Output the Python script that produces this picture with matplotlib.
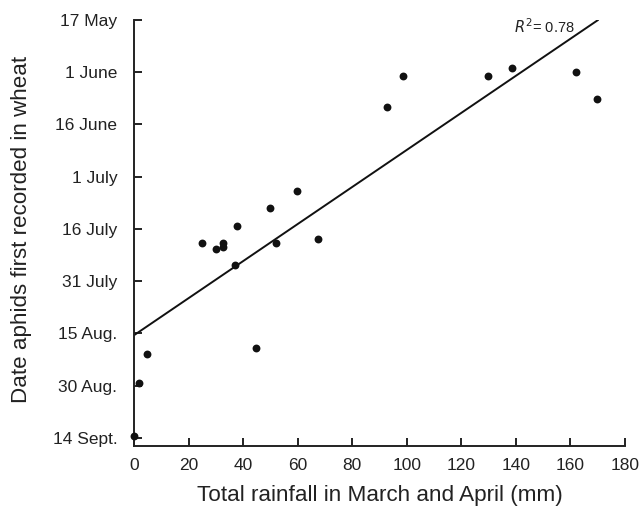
import matplotlib
matplotlib.use("Agg")
import matplotlib.pyplot as plt
import numpy as np

plt.rcParams['font.family'] = ['Liberation Sans', 'DejaVu Sans']

# Data: rainfall (mm) vs days after 17 May when aphids were first recorded
rainfall = [0, 1.7, 4.9, 25.0, 30.1, 32.7, 32.7, 36.9, 37.6, 44.6,
            49.7, 52.1, 59.9, 67.6, 92.9, 98.7, 129.9, 138.6, 161.9, 169.6]
days_after_17may = [119.5, 104.2, 96.0, 64.1, 65.7, 63.9, 65.1, 70.3, 59.1, 94.3,
                    54.1, 64.1, 49.0, 63.0, 25.0, 16.1, 16.1, 13.9, 14.9, 22.8]

# Regression line
fit_intercept = 90.5
fit_slope = -0.532
fit_x_range = [0, 170]
r2_text = "$\\it{R}^{2}$= 0.78"

ytick_days = [0, 15, 30, 45, 60, 75, 90, 105, 120]
ytick_labels = ["17 May", "1 June", "16 June", "1 July", "16 July",
                "31 July", "15 Aug.", "30 Aug.", "14 Sept."]
xticks = [0, 20, 40, 60, 80, 100, 120, 140, 160, 180]

fig = plt.figure(figsize=(6.4, 5.07), dpi=100)
ax = fig.add_axes([134/640, 1-446/507, (625-134)/640, (446-20)/507])

ax.scatter(rainfall, days_after_17may, s=32, color='#111111', zorder=3,
           clip_on=False, linewidths=0)
fx = np.array(fit_x_range, dtype=float)
ax.plot(fx, fit_intercept + fit_slope*fx, color='#111111', lw=1.4)

ax.set_xlim(0, 180)
ax.set_ylim(122.3, 0)
ax.set_xticks(xticks)
ax.set_yticks(ytick_days)
ax.set_yticklabels(ytick_labels)

for s in ['top', 'right']:
    ax.spines[s].set_visible(False)
for s in ['left', 'bottom']:
    ax.spines[s].set_linewidth(1.4)
    ax.spines[s].set_color('#222222')

ax.tick_params(axis='both', direction='in', length=6, width=1.4,
               colors='#222222', labelsize=12.5, labelcolor='#222222')
ax.tick_params(axis='x', pad=9)
ax.tick_params(axis='y', pad=12)

ax.set_xlabel("Total rainfall in March and April (mm)", fontsize=16.2,
              color='#222222', labelpad=8)
ax.set_ylabel("Date aphids first recorded in wheat", fontsize=16.1,
              color='#222222')
ax.yaxis.set_label_coords(-0.207, 0.509)

ax.text(150.5, 1.9, r2_text, fontsize=10.5, color='#222222',
        ha='center', va='center')

fig.savefig("out.png", dpi=100)
